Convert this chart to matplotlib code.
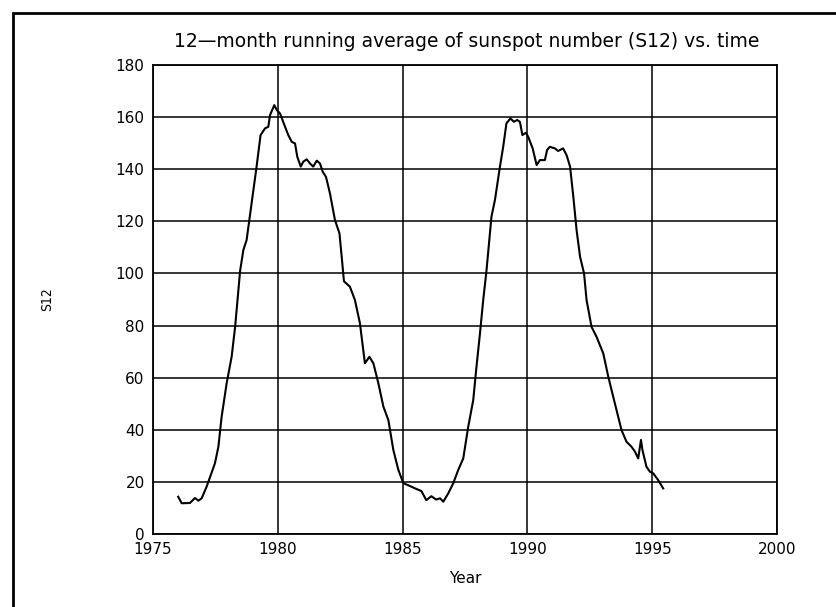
import numpy as np
import matplotlib.pyplot as plt
from matplotlib.patches import Rectangle

# 12-month running mean of sunspot number, read by month-ish steps
years = [1976.01, 1976.15, 1976.48, 1976.68, 1976.82, 1976.95, 1977.15, 1977.48,
         1977.62, 1977.75, 1977.95, 1978.15, 1978.29, 1978.49, 1978.62, 1978.75,
         1978.95, 1979.15, 1979.31, 1979.49, 1979.62, 1979.69, 1979.86, 1979.96,
         1980.09, 1980.29, 1980.42, 1980.56, 1980.69, 1980.78, 1980.92, 1981.02,
         1981.16, 1981.29, 1981.42, 1981.56, 1981.69, 1981.80, 1981.93, 1982.09,
         1982.29, 1982.47, 1982.56, 1982.65, 1982.89, 1983.09, 1983.29, 1983.49,
         1983.67, 1983.83, 1984.03, 1984.23, 1984.43, 1984.63, 1984.83, 1985.03,
         1985.30, 1985.50, 1985.75, 1985.95, 1986.15, 1986.35, 1986.50, 1986.63,
         1986.83, 1987.03, 1987.23, 1987.43, 1987.63, 1987.83, 1987.96, 1988.10,
         1988.23, 1988.36, 1988.56, 1988.70, 1988.90, 1989.03, 1989.16, 1989.32,
         1989.46, 1989.59, 1989.70, 1989.80, 1989.94, 1990.03, 1990.21, 1990.37,
         1990.50, 1990.70, 1990.79, 1990.90, 1991.10, 1991.23, 1991.43, 1991.57,
         1991.71, 1991.84, 1991.97, 1992.11, 1992.27, 1992.37, 1992.57, 1992.77,
         1993.04, 1993.24, 1993.37, 1993.57, 1993.77, 1993.97, 1994.17, 1994.31,
         1994.44, 1994.55, 1994.61, 1994.77, 1994.91, 1995.04, 1995.24, 1995.44]
s12 = [14.3, 11.8, 11.9, 13.8, 12.8, 13.7, 18.2, 27.1,
       33.5, 45.0, 57.8, 68.0, 79.5, 101.0, 109.0, 112.8,
       126.9, 141.0, 153.1, 155.7, 156.3, 160.8, 164.6, 162.7,
       161.4, 156.3, 153.1, 150.5, 149.9, 144.8, 141.0, 142.9,
       143.8, 142.2, 141.0, 143.3, 142.2, 139.0, 137.1, 130.7,
       120.5, 115.4, 106.4, 97.0, 94.9, 89.8, 80.9, 65.5,
       68.0, 65.5, 57.8, 48.9, 43.7, 32.2, 24.6, 19.5,
       18.4, 17.5, 16.5, 13.0, 14.5, 13.2, 13.7, 12.4,
       15.6, 19.5, 24.6, 29.0, 41.2, 51.4, 64.2, 77.0,
       89.8, 101.0, 121.8, 128.2, 141.0, 148.6, 157.6, 159.5,
       158.2, 158.9, 158.2, 153.1, 154.0, 152.5, 148.0, 141.6,
       143.5, 143.5, 147.4, 148.6, 148.0, 147.0, 148.0, 145.4,
       141.0, 129.4, 116.7, 106.4, 100.0, 89.8, 79.5, 75.7,
       69.3, 60.4, 55.3, 47.6, 39.9, 35.4, 33.5, 31.6,
       29.0, 36.1, 32.2, 25.8, 23.9, 23.3, 20.7, 17.5]

x_ticks = [1975, 1980, 1985, 1990, 1995, 2000]
y_ticks = [0, 20, 40, 60, 80, 100, 120, 140, 160, 180]

W, H = 837, 607
fig = plt.figure(figsize=(W / 100, H / 100), dpi=100)
ax = fig.add_axes([153 / W, 1 - 534 / H, 624 / W, 469 / H])

ax.plot(years, s12, color='black', lw=1.5)

ax.set_xlim(1975, 2000)
ax.set_ylim(0, 180)
ax.set_xticks(x_ticks)
ax.set_yticks(y_ticks)
ax.grid(True, color='black', lw=1.1)
ax.tick_params(length=0, labelsize=11, pad=6)
for s in ax.spines.values():
    s.set_linewidth(1.3)

ax.set_xlabel('Year', fontsize=11, labelpad=10)
ax.set_ylabel('S12', fontsize=10, fontstretch='condensed', labelpad=44)
fig.text(467 / W, 1 - 47 / H, '12\u2014month running average of sunspot number (S12) vs. time',
         ha='center', va='baseline', fontsize=13.5)

# outer frame running off the right and bottom edges
fig.patches.append(Rectangle((13 / W, -0.05), 1.1, 1 - 13 / H + 0.05,
                             transform=fig.transFigure, fill=False,
                             edgecolor='black', lw=2))

fig.savefig('out.png', dpi=100)
